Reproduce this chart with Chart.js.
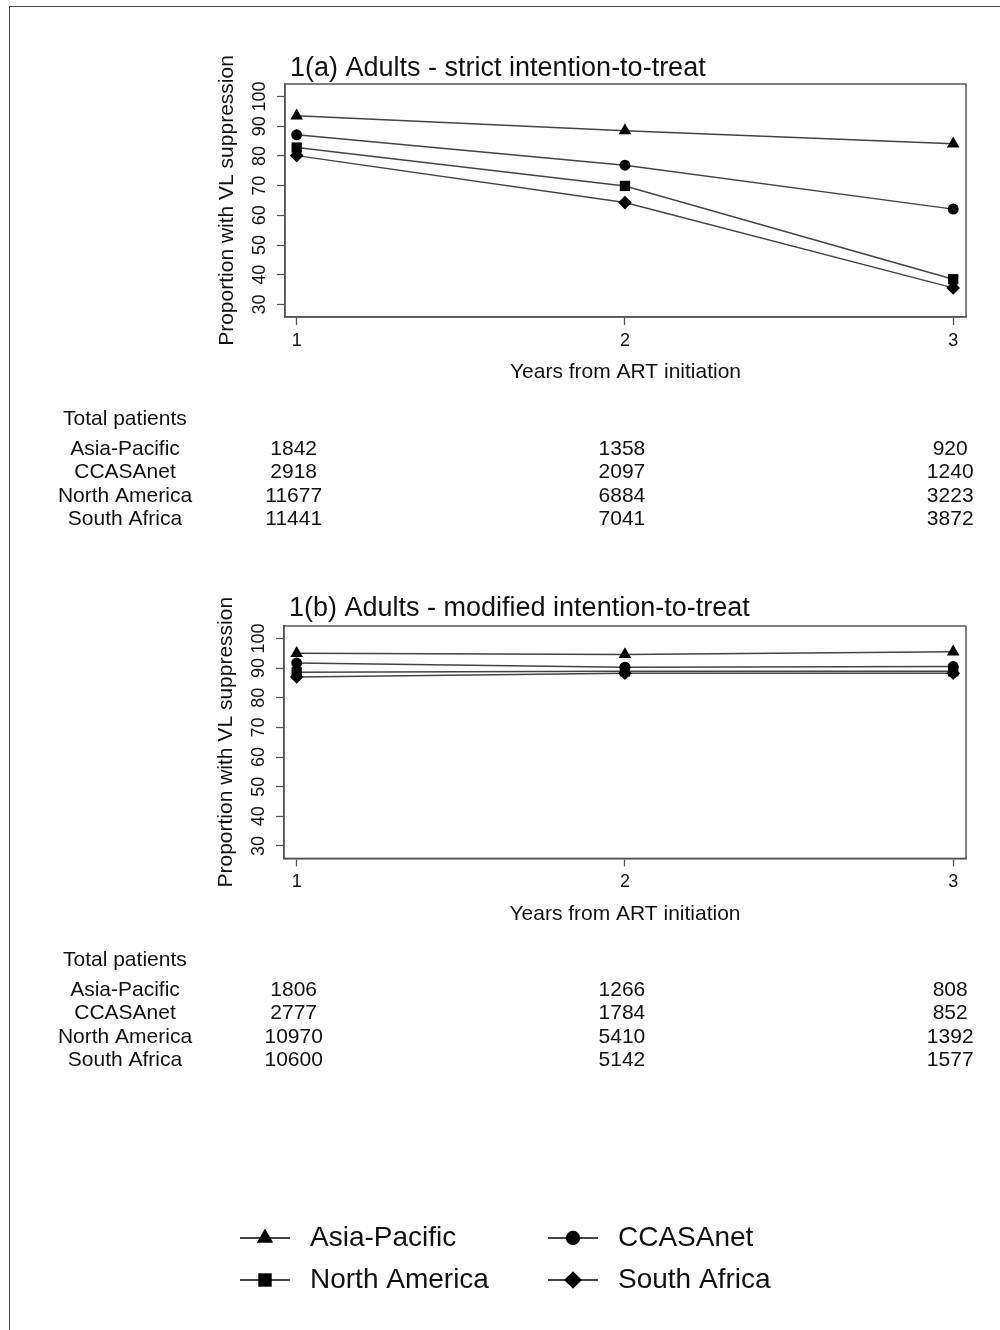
<!DOCTYPE html>
<html>
<head>
<meta charset="utf-8">
<title>VL suppression by region</title>
<script src="https://cdn.jsdelivr.net/npm/chart.js@4.4.1/dist/chart.umd.min.js"></script>
<style>
  html, body { margin: 0; padding: 0; background: #fff; }
  body { width: 1000px; height: 1330px; position: relative; overflow: hidden; }
  .frame { position: absolute; left: 9px; top: 6px; width: 1100px; height: 1400px; border: 1.5px solid #444; box-sizing: border-box; }
  canvas { position: absolute; left: 0; }
  #chart-a { top: 0; }
  #chart-b { top: 540px; }
</style>
</head>
<body>
<div class="frame"></div>
<canvas id="chart-a" width="1000" height="540"></canvas>
<canvas id="chart-b" width="1000" height="790"></canvas>
<script>
// --- data ---
const regions = ['Asia-Pacific', 'CCASAnet', 'North America', 'South Africa'];
const years = [1, 2, 3];
const yTicks = [30, 40, 50, 60, 70, 80, 90, 100];

// 1(a) strict ITT, % with VL suppression
const strictAsiaPacific = [93.5, 88.5, 84.1];
const strictCcasanet = [87.1, 76.9, 62.1];
const strictNorthAmerica = [82.8, 69.9, 38.5];
const strictSouthAfrica = [80.1, 64.3, 35.6];

// 1(b) modified ITT
const modifiedAsiaPacific = [95.0, 94.6, 95.5];
const modifiedCcasanet = [91.7, 90.3, 90.5];
const modifiedNorthAmerica = [88.6, 88.9, 88.9];
const modifiedSouthAfrica = [87.0, 88.3, 88.3];

// total patients under each panel
const strictPatientsAsiaPacific = [1842, 1358, 920];
const strictPatientsCcasanet = [2918, 2097, 1240];
const strictPatientsNorthAmerica = [11677, 6884, 3223];
const strictPatientsSouthAfrica = [11441, 7041, 3872];

const modifiedPatientsAsiaPacific = [1806, 1266, 808];
const modifiedPatientsCcasanet = [2777, 1784, 852];
const modifiedPatientsNorthAmerica = [10970, 5410, 1392];
const modifiedPatientsSouthAfrica = [10600, 5142, 1577];

// --- style ---
const FONT = '"Liberation Sans", Arial, Helvetica, sans-serif';
const INK = '#111';
const LINE = '#444';
const AXIS = '#555';
const markers = [
  { pointStyle: 'triangle', radius: 7.3 },
  { pointStyle: 'circle', radius: 5.5 },
  { pointStyle: 'rect', radius: 7.3 },
  { pointStyle: 'rectRot', radius: 6.8 },
];

Chart.defaults.font.family = FONT;
Chart.defaults.color = INK;

const toPoints = (vals) => years.map((x, i) => ({ x, y: vals[i] }));

const makeDatasets = (series) => series.map((vals, i) => ({
  label: regions[i],
  data: toPoints(vals),
  borderColor: LINE,
  borderWidth: 1.5,
  tension: 0,
  pointStyle: markers[i].pointStyle,
  pointRadius: markers[i].radius,
  pointBackgroundColor: '#000',
  pointBorderColor: '#000',
  pointBorderWidth: 0,
  clip: false,
}));

const axisGrid = { drawOnChartArea: false, drawTicks: true, tickLength: 8, tickColor: AXIS, tickWidth: 1.3 };
const axisBorder = { display: true, color: AXIS, width: 1.5 };

const makeScales = (xMin) => ({
  x: {
    type: 'linear',
    min: xMin,
    max: 3.039,
    afterBuildTicks: (s) => { s.ticks = years.map(v => ({ value: v })); },
    afterFit: (s) => { s.height = 80; },
    grid: axisGrid,
    border: axisBorder,
    ticks: { color: INK, font: { size: 18 }, padding: 5, autoSkip: false, maxRotation: 0 },
    title: { display: true, text: 'Years from ART initiation', color: INK, font: { size: 21 }, padding: { top: 0, bottom: 12 } },
  },
  y: {
    type: 'linear',
    min: 25.8,
    max: 104.2,
    afterBuildTicks: (s) => { s.ticks = yTicks.map(v => ({ value: v })); },
    afterFit: (s) => { s.width = 85; },
    grid: axisGrid,
    border: axisBorder,
    ticks: { color: INK, font: { size: 18 }, padding: 1.5, autoSkip: false, minRotation: 90, maxRotation: 90, crossAlign: 'center' },
    title: { display: true, text: 'Proportion with VL suppression', color: INK, font: { size: 21 }, padding: { top: 15, bottom: 0 } },
  },
});

// plot box, panel title and the "Total patients" table
const panelText = {
  id: 'panelText',
  afterDraw(chart, args, opts) {
    const { ctx, chartArea, scales } = chart;
    ctx.save();
    ctx.strokeStyle = AXIS;
    ctx.lineWidth = 1.5;
    ctx.strokeRect(chartArea.left, chartArea.top, chartArea.right - chartArea.left, chartArea.bottom - chartArea.top);

    ctx.fillStyle = INK;
    ctx.textBaseline = 'alphabetic';
    ctx.textAlign = 'left';
    ctx.font = `27px ${FONT}`;
    ctx.fillText(opts.title, chartArea.left + 5, chartArea.top - opts.titleGap);

    ctx.font = `21px ${FONT}`;
    ctx.fillText('Total patients', 63, opts.tableTop);
    ctx.textAlign = 'center';
    opts.rows.forEach((row, i) => {
      const y = opts.tableTop + 29.5 + i * 23.5;
      ctx.fillText(regions[i], 125, y);
      row.forEach((n, j) => ctx.fillText(String(n), scales.x.getPixelForValue(years[j]) - 3, y));
    });
    ctx.restore();
  },
};

// 2x2 legend at the foot of the page
const footLegend = {
  id: 'footLegend',
  afterDraw(chart, args, opts) {
    if (!opts.show) return;
    const { ctx } = chart;
    ctx.save();
    regions.forEach((name, i) => {
      const x = opts.cols[i % 2];
      const y = opts.rows[Math.floor(i / 2)];
      ctx.strokeStyle = LINE;
      ctx.lineWidth = 1.8;
      ctx.beginPath();
      ctx.moveTo(x, y);
      ctx.lineTo(x + 50, y);
      ctx.stroke();
      ctx.fillStyle = '#000';
      Chart.helpers.drawPoint(ctx, { pointStyle: markers[i].pointStyle, radius: markers[i].radius * 1.3, rotation: 0, borderWidth: 0 }, x + 25, y);
      ctx.fillStyle = INK;
      ctx.font = `28px ${FONT}`;
      ctx.textAlign = 'left';
      ctx.textBaseline = 'middle';
      ctx.fillText(name, x + 70, y);
    });
    ctx.restore();
  },
};

const makeChart = (id, series, xMin, padding, text, legend) => new Chart(document.getElementById(id), {
  type: 'line',
  data: { datasets: makeDatasets(series) },
  options: {
    responsive: false,
    animation: false,
    layout: { padding },
    scales: makeScales(xMin),
    plugins: {
      legend: { display: false },
      tooltip: { enabled: false },
      panelText: text,
      footLegend: legend,
    },
  },
  plugins: [panelText, footLegend],
});

makeChart('chart-a',
  [strictAsiaPacific, strictCcasanet, strictNorthAmerica, strictSouthAfrica],
  0.9644,
  { left: 200, right: 34, top: 84, bottom: 143 },
  {
    title: '1(a) Adults - strict intention-to-treat',
    titleGap: 8,
    tableTop: 425,
    rows: [strictPatientsAsiaPacific, strictPatientsCcasanet, strictPatientsNorthAmerica, strictPatientsSouthAfrica],
  },
  { show: false });

makeChart('chart-b',
  [modifiedAsiaPacific, modifiedCcasanet, modifiedNorthAmerica, modifiedSouthAfrica],
  0.9614,
  { left: 199, right: 34, top: 86, bottom: 391.6 },
  {
    title: '1(b) Adults - modified intention-to-treat',
    titleGap: 10,
    tableTop: 426,
    rows: [modifiedPatientsAsiaPacific, modifiedPatientsCcasanet, modifiedPatientsNorthAmerica, modifiedPatientsSouthAfrica],
  },
  { show: true, cols: [240, 548], rows: [698, 740] });
</script>
</body>
</html>
